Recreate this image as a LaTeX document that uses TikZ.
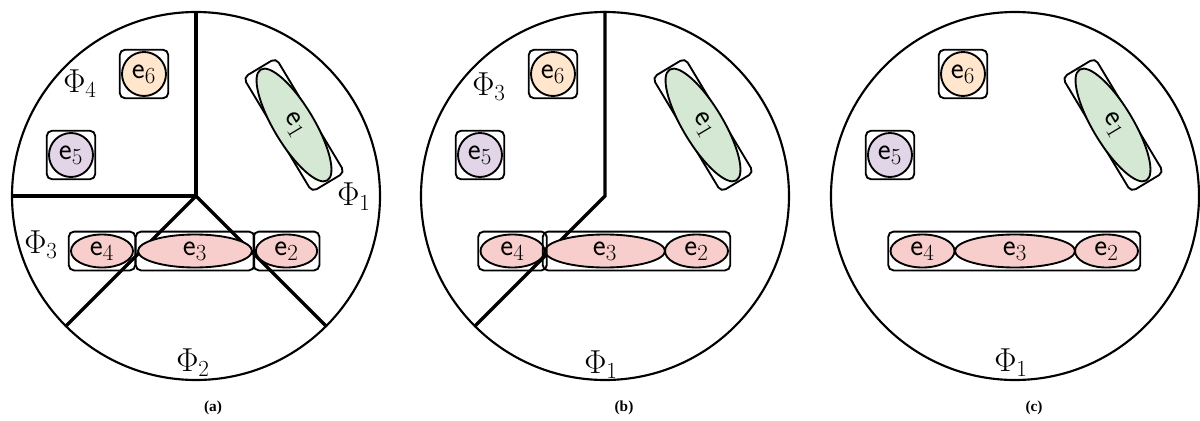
\documentclass[tikz,border=0pt]{standalone}
\usepackage{fontspec}
\newfontfamily\capfont{Liberation Serif}
\usetikzlibrary{shapes.geometric,fit}
\definecolor{cRed}{HTML}{F8CECC}
\definecolor{cGreen}{HTML}{D5E8D4}
\definecolor{cOrange}{HTML}{FFE6CC}
\definecolor{cPurple}{HTML}{E1D5E7}
\tikzset{
  pane/.style={circle, draw, line width=1.6pt, minimum size=276pt, inner sep=0pt},
  part/.style={line width=2.6pt},
  ent/.style={ellipse, draw, line width=1.4pt, inner sep=0pt, font=\fontsize{23}{27}\selectfont},
  grp/.style={draw, rounded corners=4pt, line width=1.4pt, inner xsep=1pt, inner ysep=1.5pt},
  philab/.style={font=\fontsize{23}{27}\selectfont, inner sep=0pt},
  captext/.style={font=\capfont\bfseries\fontsize{11.5}{13}\selectfont, inner sep=0pt},
}
\begin{document}
\begin{tikzpicture}[x=0.75pt,y=-0.75pt]
\useasboundingbox (0,0) rectangle (1200,421);
% ---------------- panel (a)
\begin{scope}[shift={(196,196)}]
  \node[pane] (Ca) at (0,0) {};
  \draw[part] (Ca.center) -- (Ca.north);
  \draw[part] (Ca.center) -- (Ca.west);
  \draw[part] (Ca.center) -- (Ca.225);
  \draw[part] (Ca.center) -- (Ca.315);
  \node[ent, fill=cRed, minimum width=46.5pt, minimum height=24.75pt] (a4) at (-94,55) {$\mathsf{e}_4$};
  \node[ent, fill=cRed, minimum width=85.5pt, minimum height=24.75pt] (a3) at (-1,55) {$\mathsf{e}_3$};
  \node[ent, fill=cRed, minimum width=46pt, minimum height=24.75pt] (a2) at (90.5,55) {$\mathsf{e}_2$};
  \node[grp, fit=(a4)] (ga4) {};
  \node[grp, fit=(a3)] (ga3) {};
  \node[grp, fit=(a2)] (ga2) {};
  \node[ent, circle, fill=cOrange, minimum size=33pt] (a6) at (-52,-122) {$\mathsf{e}_6$};
  \node[grp, fit=(a6), inner sep=1pt] (ga6) {};
  \node[ent, circle, fill=cPurple, minimum size=33pt] (a5) at (-125,-41) {$\mathsf{e}_5$};
  \node[grp, fit=(a5), inner sep=1pt] (ga5) {};
  \node[grp, rotate=-59, minimum width=100pt, minimum height=28.5pt, inner sep=0pt] (ga1) at (98,-71) {};
  \node[ent, fill=cGreen, rotate=-59, minimum width=97pt, minimum height=30pt] (a1) at (98,-71) {$\mathsf{e}_1$};
  \node[philab] (pa4) at (-116,-112) {$\Phi_4$};
  \node[philab] (pa1) at (158,1) {$\Phi_1$};
  \node[philab] (pa3) at (-155,49) {$\Phi_3$};
  \node[philab] (pa2) at (-3,167) {$\Phi_2$};
\end{scope}
\node[captext] (capa) at (213,408) {(a)};
% ---------------- panel (b)
\begin{scope}[shift={(605,196)}]
  \node[pane] (Cb) at (0,0) {};
  \draw[part] (Cb.north) -- (Cb.center) -- (Cb.225);
  \node[ent, fill=cRed, minimum width=48pt, minimum height=24.75pt] (b4) at (-92.5,55) {$\mathsf{e}_4$};
  \node[ent, fill=cRed, minimum width=90pt, minimum height=24.75pt] (b3) at (0,55) {$\mathsf{e}_3$};
  \node[ent, fill=cRed, minimum width=47.25pt, minimum height=24.75pt] (b2) at (91.5,55) {$\mathsf{e}_2$};
  \node[grp, fit=(b4)] (gb4) {};
  \node[grp, fit=(b3)(b2)] (gb32) {};
  \node[ent, circle, fill=cOrange, minimum size=33pt] (b6) at (-52,-122) {$\mathsf{e}_6$};
  \node[grp, fit=(b6), inner sep=1pt] (gb6) {};
  \node[ent, circle, fill=cPurple, minimum size=33pt] (b5) at (-125,-41) {$\mathsf{e}_5$};
  \node[grp, fit=(b5), inner sep=1pt] (gb5) {};
  \node[grp, rotate=-59, minimum width=100pt, minimum height=28.5pt, inner sep=0pt] (gb1) at (98,-71) {};
  \node[ent, fill=cGreen, rotate=-59, minimum width=97pt, minimum height=30pt] (b1) at (98,-71) {$\mathsf{e}_1$};
  \node[philab] (pb3) at (-116,-109) {$\Phi_3$};
  \node[philab] (pb1) at (-4,169) {$\Phi_1$};
\end{scope}
\node[captext] (capb) at (624,408) {(b)};
% ---------------- panel (c)
\begin{scope}[shift={(1015,196)}]
  \node[pane] (Cc) at (0,0) {};
  \node[ent, fill=cRed, minimum width=48pt, minimum height=24.75pt] (c4) at (-92.5,55) {$\mathsf{e}_4$};
  \node[ent, fill=cRed, minimum width=90pt, minimum height=24.75pt] (c3) at (0,55) {$\mathsf{e}_3$};
  \node[ent, fill=cRed, minimum width=47.25pt, minimum height=24.75pt] (c2) at (91.5,55) {$\mathsf{e}_2$};
  \node[grp, fit=(c4)(c3)(c2)] (gc432) {};
  \node[ent, circle, fill=cOrange, minimum size=33pt] (c6) at (-52,-122) {$\mathsf{e}_6$};
  \node[grp, fit=(c6), inner sep=1pt] (gc6) {};
  \node[ent, circle, fill=cPurple, minimum size=33pt] (c5) at (-125,-41) {$\mathsf{e}_5$};
  \node[grp, fit=(c5), inner sep=1pt] (gc5) {};
  \node[grp, rotate=-59, minimum width=100pt, minimum height=28.5pt, inner sep=0pt] (gc1) at (98,-71) {};
  \node[ent, fill=cGreen, rotate=-59, minimum width=97pt, minimum height=30pt] (c1) at (98,-71) {$\mathsf{e}_1$};
  \node[philab] (pc1) at (-4,167) {$\Phi_1$};
\end{scope}
\node[captext] (capc) at (1034,408) {(c)};
\end{tikzpicture}
\end{document}
